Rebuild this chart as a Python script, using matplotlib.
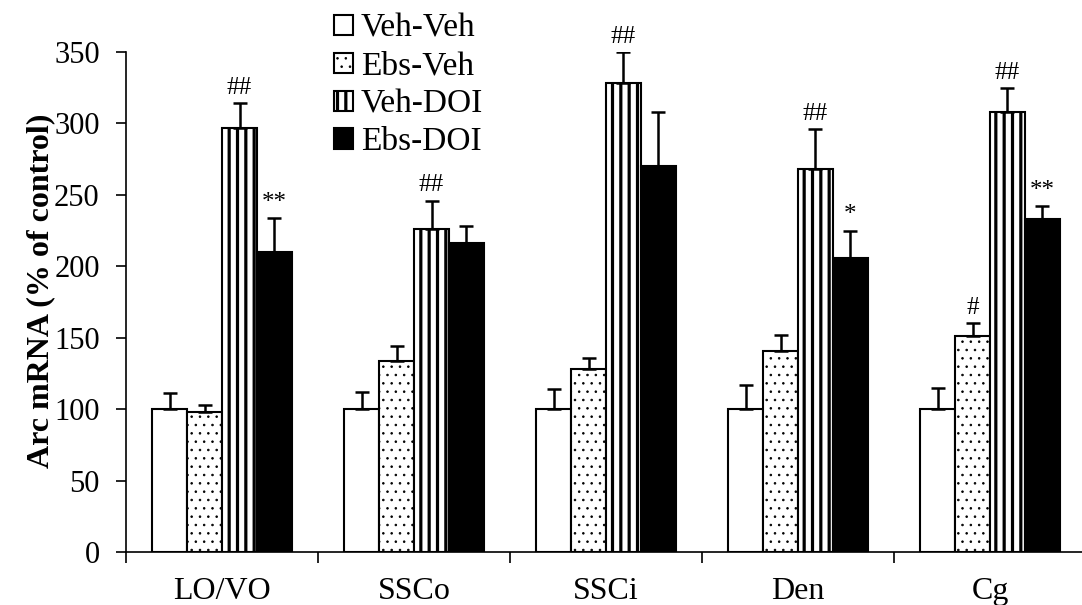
import numpy as np
import matplotlib.pyplot as plt

plt.rcParams['font.family'] = ['Liberation Serif', 'DejaVu Serif']

# data
groups = ["LO/VO", "SSCo", "SSCi", "Den", "Cg"]
series = ["Veh-Veh", "Ebs-Veh", "Veh-DOI", "Ebs-DOI"]

veh_veh = [100, 100, 100, 100, 100]
veh_veh_err = [11, 12, 14, 17, 15]
ebs_veh = [98, 134, 128, 141, 151]
ebs_veh_err = [5, 10, 8, 11, 9]
veh_doi = [297, 226, 328, 268, 308]
veh_doi_err = [17, 20, 22, 28, 17]
ebs_doi = [210, 216, 270, 206, 233]
ebs_doi_err = [24, 12, 38, 19, 9]

veh_veh_sig = ["", "", "", "", ""]
ebs_veh_sig = ["", "", "", "", "#"]
veh_doi_sig = ["##", "##", "##", "##", "##"]
ebs_doi_sig = ["**", "", "", "*", "**"]

means = [veh_veh, ebs_veh, veh_doi, ebs_doi]
errs = [veh_veh_err, ebs_veh_err, veh_doi_err, ebs_doi_err]
sigs = [veh_veh_sig, ebs_veh_sig, veh_doi_sig, ebs_doi_sig]
faces = ["white", "white", "white", "black"]
hatches = [None, "..", "||", None]
hatch_lw = [0.6, 0.6, 2.3, 0.6]

fig = plt.figure(figsize=(10.82, 6.05), dpi=100)
ax = fig.add_axes([0.1165, 0.0876, 0.8872, 0.8264])

x = np.arange(len(groups))
w = 0.182
for i in range(4):
    pos = x + (i - 1.5) * w
    plt.rcParams['hatch.linewidth'] = hatch_lw[i]
    bars = ax.bar(pos, means[i], w, color=faces[i], edgecolor="black", linewidth=1.5,
                  hatch=hatches[i], label=series[i], zorder=2)
    for b in bars:
        b.set_hatch_linewidth(hatch_lw[i])
    ax.errorbar(pos, means[i], yerr=[np.zeros(5), errs[i]], fmt="none",
                ecolor="black", elinewidth=1.8, capsize=5, capthick=1.8, zorder=3)
    for p, m, e, s in zip(pos, means[i], errs[i], sigs[i]):
        if s:
            ax.annotate(s, (p, m + e), xytext=(0, 3), textcoords="offset points",
                        ha="center", va="bottom", fontsize=18)

ax.set_ylim(0, 350)
ax.set_xlim(-0.5, 4.5)
ax.set_yticks(np.arange(0, 351, 50))
ax.set_xticks(x)
ax.set_xticklabels(groups)
ax.set_xticks(np.arange(-0.5, 5, 1), minor=True)
ax.tick_params(axis="x", which="major", length=0, pad=18, labelsize=23)
ax.tick_params(axis="x", which="minor", length=8, width=1.2, direction="out")
ax.tick_params(axis="y", length=7, width=1.2, pad=12, labelsize=22)
ax.spines["top"].set_visible(False)
ax.spines["right"].set_visible(False)
ax.spines["left"].set_linewidth(1.2)
ax.spines["bottom"].set_linewidth(1.2)
ax.set_ylabel("Arc mRNA (% of control)", fontsize=23, fontweight="bold")
ax.yaxis.set_label_coords(-0.074, 0.522)

leg = fig.legend(loc="upper left", bbox_to_anchor=(0.309, 0.978), frameon=False,
                 fontsize=24, handlelength=0.55, handleheight=0.55, handletextpad=0.25,
                 labelspacing=0.22, borderpad=0, borderaxespad=0)
for h, lw in zip(leg.legend_handles, hatch_lw):
    h.set_hatch_linewidth(lw)

fig.savefig("out.png", dpi=100)
